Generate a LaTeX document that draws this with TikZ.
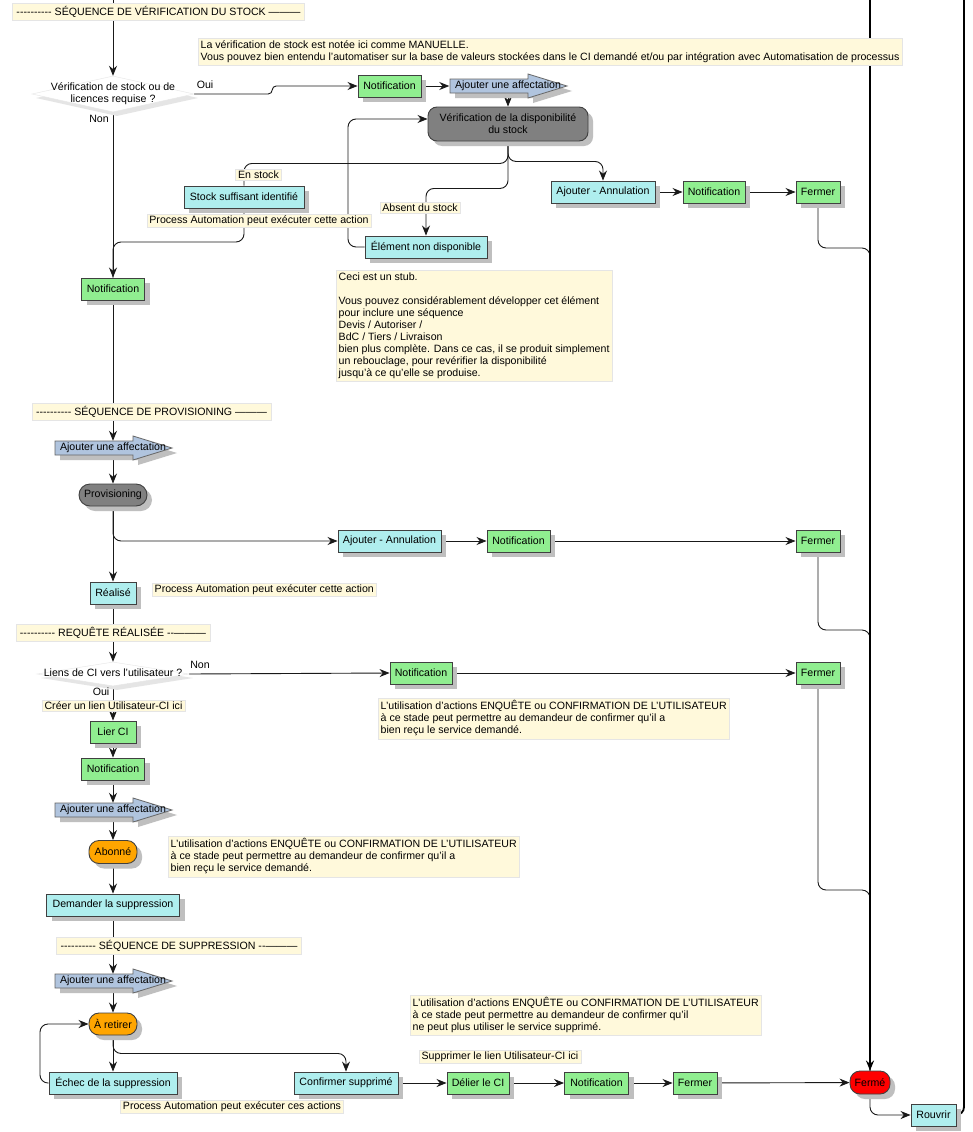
\documentclass[tikz,border=0pt]{standalone}
\usepackage{fontspec}
\setmainfont{Liberation Sans}
\usetikzlibrary{shapes.geometric,shadows,arrows.meta,backgrounds}
\definecolor{taskc}{HTML}{AFEEEE}
\definecolor{actc}{HTML}{90EE90}
\definecolor{affc}{HTML}{B0C4DE}
\definecolor{notec}{HTML}{FFF9DB}
\definecolor{orgc}{HTML}{FFA500}
\newcommand\stk[1]{\makebox[0pt]{\begin{tabular}{@{}c@{}}#1\end{tabular}}}
\def\hy{-\kern0pt-\kern0pt-\kern0pt-\kern0pt-\kern0pt-\kern0pt-\kern0pt-\kern0pt-\kern0pt-}
\begin{document}
\begin{tikzpicture}[x=1pt,y=-1pt,font=\fontsize{10.6}{12}\selectfont,
  link/.style={line width=0.9pt,black!90},
  arr/.style={link,-{Stealth[length=10pt,width=8pt]}},
  shade/.style={drop shadow={shadow xshift=5pt,shadow yshift=-5pt,fill=black!25,opacity=1}},
  task/.style={shade,draw=black!75,line width=0.9pt,fill=taskc,minimum height=22,inner sep=0pt},
  act/.style={task,fill=actc},
  etat/.style={task,rounded corners=10,fill=black!50},
  diam/.style={diamond,draw=black!10,fill=white,inner sep=0pt,drop shadow={shadow xshift=4pt,shadow yshift=-4pt,fill=black!10,opacity=1}},
  affect/.style={draw=black!60,line width=0.8pt,fill=affc},
  afftext/.style={inner sep=0pt,minimum width=117,minimum height=14},
  note/.style={fill=notec,draw=black!10,inner sep=2.5pt,align=left},
  hdr/.style={note,align=center,inner xsep=4pt,minimum height=17}]
\def\affshape{(-58,-7) -- (20,-7) -- (20,-12) -- (59,0) -- (20,12) -- (20,7) -- (-58,7) -- cycle}
\useasboundingbox (0,0) rectangle (972,1132);

\node[hdr] (hdr1) at (158.5,12) {\hy\ SÉQUENCE DE VÉRIFICATION DU STOCK ———};
\node[note,anchor=north west] (note1) at (198,38) {La vérification de stock est notée ici comme MANUELLE.\\Vous pouvez bien entendu l'automatiser sur la base de valeurs stockées dans le CI demandé et/ou par intégration avec Automatisation de processus};
\node[diam,minimum width=162,minimum height=36] (d1) at (113,94) {\stk{Vérification de stock ou de\\licences requise ?}};
\node (oui1) at (205,85) {Oui};
\node (non1) at (99,119) {Non};
\node[act,minimum width=63] (notifA) at (389.5,86) {Notification};
\foreach \nm/\cx/\cy in {affA/508/86,affB/113/448,affC/113/810,affD/113/981}{
  \fill[black!25,shift={(\cx+5,\cy+5)}] \affshape;
  \filldraw[affect,shift={(\cx,\cy)}] \affshape;
  \node[afftext] (\nm) at (\cx,\cy) {Ajouter une affectation};
}
\node[etat,rounded corners=9,minimum width=160,minimum height=34,align=center] (verif) at (508,124) {Vérification de la disponibilité\\du stock};
\node[task,minimum width=120] (stock) at (244,197) {Stock suffisant identifié};
\node[note,inner ysep=1.5pt] (enstock) at (258.5,175) {En stock};
\node[note,inner ysep=1.5pt] (pa1) at (259,221) {Process Automation peut exécuter cette action};
\node[task,minimum width=122] (elem) at (426,247) {Élément non disponible};
\node[note,inner ysep=1.5pt] (absent) at (420,208) {Absent du stock};
\node[task,minimum width=104] (annulA) at (603,192) {Ajouter - Annulation};
\node[act,minimum width=62] (notifB) at (714,192) {Notification};
\node[act,minimum width=44] (fermerA) at (818,192) {Fermer};
\node[act,minimum width=63] (notifC) at (113,289) {Notification};
\node[note,anchor=north west] (stub) at (336,270) {Ceci est un stub.\\[12pt]Vous pouvez considérablement développer cet élément\\pour inclure une séquence\\Devis / Autoriser /\\BdC / Tiers / Livraison\\bien plus complète. Dans ce cas, il se produit simplement\\un rebouclage, pour revérifier la disponibilité\\jusqu'à ce qu'elle se produise.};

\node[hdr] (hdr2) at (151.5,411.5) {\hy\ SÉQUENCE DE PROVISIONING ———};
\node[etat,rounded corners=11,minimum width=68] (provis) at (113,495) {Provisioning};
\node[task,minimum width=103] (annulB) at (389.5,541) {Ajouter - Annulation};
\node[act,minimum width=63] (notifD) at (518.5,541) {Notification};
\node[act,minimum width=44] (fermerB) at (818,541) {Fermer};
\node[task,minimum width=46] (realise) at (113,593) {Réalisé};
\node[note,inner ysep=1.5pt,anchor=west] (pa2) at (152,590) {Process Automation peut exécuter cette action};

\node[hdr] (hdr3) at (113,632.5) {\hy\ REQUÊTE RÉALISÉE -\kern0pt-———};
\node[diam,minimum width=152,minimum height=24] (d2) at (113,674) {\stk{Liens de CI vers l'utilisateur ?}};
\node (non2) at (200,665) {Non};
\node (oui2) at (101,692) {Oui};
\node[act,minimum width=62] (notifE) at (421,673) {Notification};
\node[act,minimum width=44] (fermerC) at (818,673) {Fermer};
\node[note,anchor=north west] (enq1) at (378,698) {L'utilisation d'actions ENQUÊTE ou CONFIRMATION DE L'UTILISATEUR\\à ce stade peut permettre au demandeur de confirmer qu'il a\\bien reçu le service demandé.};
\node[note,inner ysep=1.5pt] (creer) at (113.5,706) {Créer un lien Utilisateur-CI ici};
\node[act,minimum width=46] (lier) at (113,732) {Lier CI};
\node[act,minimum width=63] (notifF) at (113,769) {Notification};
\node[etat,fill=orgc,minimum width=48,minimum height=23] (abonne) at (113,852) {Abonné};
\node[note,anchor=north west] (enq2) at (168,836) {L'utilisation d'actions ENQUÊTE ou CONFIRMATION DE L'UTILISATEUR\\à ce stade peut permettre au demandeur de confirmer qu'il a\\bien reçu le service demandé.};
\node[task,minimum width=133] (demander) at (113,905) {Demander la suppression};

\node[hdr] (hdr4) at (179,946) {\hy\ SÉQUENCE DE SUPPRESSION -\kern0pt-———};
\node[note,anchor=north west] (enq3) at (410,995) {L'utilisation d'actions ENQUÊTE ou CONFIRMATION DE L'UTILISATEUR\\à ce stade peut permettre au demandeur de confirmer qu'il\\ne peut plus utiliser le service supprimé.};
\node[etat,fill=orgc,minimum width=48] (retirer) at (113,1024) {À retirer};
\node[note,inner ysep=1.5pt] (supprimer) at (500,1056.5) {Supprimer le lien Utilisateur-CI ici};
\node[task,minimum width=128] (echec) at (113,1083) {Échec de la suppression};
\node[task,minimum width=104] (confirm) at (346,1083) {Confirmer supprimé};
\node[note,inner ysep=1.5pt] (pa3) at (232,1106.5) {Process Automation peut exécuter ces actions};
\node[act,minimum width=62] (delier) at (478,1083) {Délier le CI};
\node[act,minimum width=64] (notifG) at (596.5,1083) {Notification};
\node[act,minimum width=44] (fermerD) at (695,1083) {Fermer};
\node[etat,fill=red,minimum width=40,minimum height=23] (ferme) at (870,1082.5) {Fermé};
\node[task,minimum width=45] (rouvrir) at (933.5,1115) {Rouvrir};

\begin{scope}[on background layer]
\fill[white] (0,0) rectangle (972,1132);
\coordinate (top) at (113,0);
\coordinate (rtopA) at (870,0);
\coordinate (rtopB) at (964,0);
\coordinate (jS) at (113,242);
\coordinate (jA) at (870,248);
\coordinate (jB) at (870,630);
\coordinate (jC) at (870,890);
\coordinate (loopA) at (348,119);
\coordinate (loopB) at (40,1024);
\draw[arr] (top) -- (d1.north);
\draw[arr,rounded corners=4] (d1.east) -- ++(78,0) |- (notifA.west);
\draw[arr] (notifA) -- (affA);
\draw[arr] (affA.south) -- (affA.south |- verif.north);
\draw[link,rounded corners=8] (verif.south) -- ++(0,22) -| (stock.north);
\draw[arr,rounded corners=8] (verif.south) -- ++(0,47) -| (elem.north);
\draw[arr,rounded corners=8] (verif.south) -- ++(0,20) -| (annulA.north);
\draw[arr] (annulA) -- (notifB);
\draw[arr] (notifB) -- (fermerA);
\draw[link,rounded corners=8] (fermerA.south) |- (jA) -- (jA |- ferme.north);
\draw[arr,rounded corners=8] (elem.west) -| (loopA) -- (loopA -| verif.west);
\draw[link,rounded corners=8] (stock.south) |- (jS) -- (jS |- notifC.north);
\draw[arr] (d1.south) -- (notifC.north);
\draw[arr] (notifC.south) -- (affB.north);
\draw[arr] (affB.south) -- (provis.north);
\draw[arr] (provis.south) -- (realise.north);
\draw[arr,rounded corners=8] (provis.south) |- (annulB.west);
\draw[arr] (annulB) -- (notifD);
\draw[arr] (notifD) -- (fermerB);
\draw[link,rounded corners=8] (fermerB.south) |- (jB) -- (jB |- ferme.north);
\draw[arr] (realise.south) -- (d2.north);
\draw[arr] (d2.east) -- (notifE.west);
\draw[arr] (notifE) -- (fermerC);
\draw[link,rounded corners=8] (fermerC.south) |- (jC) -- (jC |- ferme.north);
\draw[arr] (d2.south) -- (lier.north);
\draw[arr] (lier) -- (notifF);
\draw[arr] (notifF.south) -- (affC.north);
\draw[arr] (affC.south) -- (abonne.north);
\draw[arr] (abonne) -- (demander);
\draw[arr] (demander.south) -- (affD.north);
\draw[arr] (affD.south) -- (retirer.north);
\draw[arr] (retirer) -- (echec);
\draw[arr,rounded corners=8] (retirer.south) -- ++(0,18) -| (confirm.north);
\draw[arr,rounded corners=8] (echec.west) -| (loopB) -- (retirer.west);
\draw[arr] (confirm) -- (delier);
\draw[arr] (delier) -- (notifG);
\draw[arr] (notifG) -- (fermerD);
\draw[arr] (fermerD) -- (ferme);
\draw[arr,rounded corners=8] (ferme.south) |- (rouvrir.west);
\draw[arr,line width=1.8pt,black] (rtopA) -- (ferme.north);
\draw[link,line width=1.8pt,black,rounded corners=8] (rouvrir.east) -| (rtopB);
\end{scope}
\end{tikzpicture}
\end{document}
